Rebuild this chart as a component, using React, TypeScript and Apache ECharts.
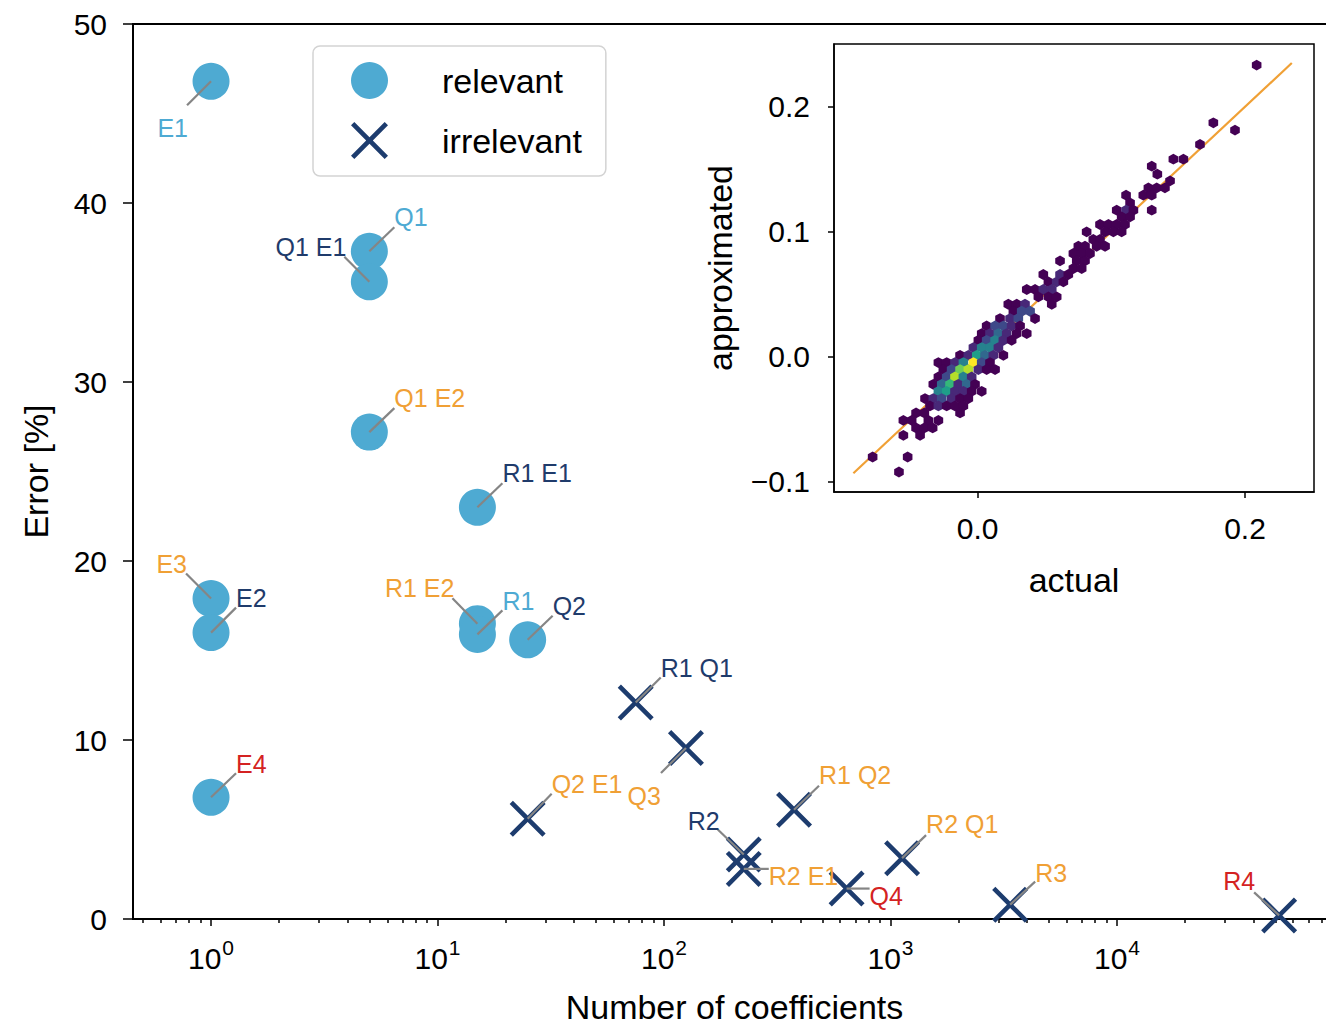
import React, { useEffect, useRef } from "react";
import * as echarts from "echarts";

// ---------- main plot data ----------
const relevantNames = ["E1", "Q1", "Q1 E1", "Q1 E2", "R1 E1", "E3", "E2", "R1 E2", "R1", "Q2", "E4"];
const relevantCoefs = [1, 5, 5, 5, 15, 1, 1, 15, 15, 25, 1];
const relevantErrors = [46.8, 37.3, 35.6, 27.2, 23.0, 17.9, 16.0, 16.5, 15.9, 15.6, 6.8];
const relevantLabelKind = ["blue", "blue", "navy", "orange", "navy", "orange", "navy", "orange", "blue", "navy", "red"];

const irrelevantNames = ["R1 Q1", "Q3", "Q2 E1", "R1 Q2", "R2", "R2 E1", "Q4", "R2 Q1", "R3", "R4"];
const irrelevantCoefs = [75, 125, 25, 375, 225, 225, 640, 1125, 3375, 52000];
const irrelevantErrors = [12.1, 9.55, 5.6, 6.1, 3.6, 2.8, 1.7, 3.4, 0.8, 0.2];
const irrelevantLabelKind = ["navy", "orange", "orange", "orange", "navy", "orange", "red", "orange", "orange", "red"];

const majorTicks = [1, 10, 100, 1000, 10000];
const minorTicks = [
  0.5, 0.6, 0.7, 0.8, 0.9,
  2, 3, 4, 5, 6, 7, 8, 9,
  20, 30, 40, 50, 60, 70, 80, 90,
  200, 300, 400, 500, 600, 700, 800, 900,
  2000, 3000, 4000, 5000, 6000, 7000, 8000, 9000,
  20000, 30000, 40000, 50000, 60000, 70000, 80000, 90000,
];

// ---------- inset data ----------
const insetXTicks = [0, 0.2];
const insetYTicks = [-0.1, 0, 0.1, 0.2];
const diagLine = [[-0.093, -0.093], [0.235, 0.235]];
// hexbin cells: [actual, approximated, count]
const hexCells = [
  [0.2087, 0.2333, 1],
  [0.1763, 0.1872, 1],
  [0.1925, 0.1813, 1],
  [0.1663, 0.1699, 1],
  [0.1464, 0.1581, 1], [0.1539, 0.1581, 1],
  [0.1302, 0.1525, 1],
  [0.1344, 0.1461, 1],
  [0.1439, 0.1408, 1],
  [0.1277, 0.1352, 1], [0.1339, 0.1352, 1], [0.1401, 0.1352, 1],
  [0.111, 0.1293, 1], [0.1239, 0.1293, 1], [0.1302, 0.1293, 1],
  [0.114, 0.1232, 1],
  [0.104, 0.1173, 1], [0.111, 0.1173, 2], [0.1165, 0.1173, 1], [0.1302, 0.1173, 1],
  [0.1077, 0.112, 1], [0.114, 0.112, 1],
  [0.0915, 0.1059, 1], [0.0978, 0.1059, 1], [0.104, 0.1059, 1], [0.1102, 0.1059, 1],
  [0.0815, 0.1, 1], [0.0953, 0.1, 1], [0.1015, 0.1, 1], [0.1077, 0.1, 1],
  [0.0865, 0.0939, 1], [0.0915, 0.0939, 1],
  [0.0753, 0.0885, 1], [0.0803, 0.0885, 1], [0.089, 0.0885, 1], [0.0953, 0.0885, 1],
  [0.0716, 0.0827, 1], [0.0778, 0.0827, 1], [0.084, 0.0827, 1],
  [0.0616, 0.0768, 1], [0.0741, 0.0768, 1], [0.0803, 0.0768, 1],
  [0.0716, 0.0707, 1], [0.0778, 0.0707, 1],
  [0.0491, 0.0659, 1], [0.0616, 0.0659, 2], [0.0678, 0.0659, 1],
  [0.0529, 0.06, 1], [0.0591, 0.06, 2], [0.0641, 0.06, 1],
  [0.0367, 0.0539, 1], [0.0429, 0.0539, 1], [0.0491, 0.0539, 2], [0.0554, 0.0539, 2],
  [0.0454, 0.048, 1], [0.0529, 0.048, 1], [0.0591, 0.048, 1],
  [0.0229, 0.0421, 1], [0.0292, 0.0421, 1], [0.0354, 0.0421, 2], [0.0554, 0.0421, 1],
  [0.0267, 0.0365, 1], [0.0329, 0.0365, 3], [0.0392, 0.0365, 3],
  [0.0167, 0.0307, 1], [0.0242, 0.0307, 2], [0.0304, 0.0307, 3], [0.0429, 0.0307, 1],
  [0.0067, 0.0248, 1], [0.013, 0.0248, 3], [0.0192, 0.0248, 3], [0.0254, 0.0248, 2], [0.0317, 0.0248, 1],
  [0.003, 0.0187, 1], [0.0092, 0.0187, 2], [0.0155, 0.0187, 4], [0.0217, 0.0187, 2], [0.0292, 0.0187, 1], [0.0367, 0.0187, 1],
  [0.0005, 0.0133, 1], [0.0067, 0.0133, 3], [0.013, 0.0133, 5], [0.0192, 0.0133, 2], [0.0254, 0.0133, 1],
  [-0.0032, 0.0075, 2], [0.003, 0.0075, 5], [0.0092, 0.0075, 5], [0.0155, 0.0075, 2],
  [-0.0132, 0.0013, 1], [-0.007, 0.0013, 2], [-0.0007, 0.0013, 6], [0.0055, 0.0013, 4], [0.0117, 0.0013, 2], [0.0192, 0.0013, 1],
  [-0.0294, -0.0045, 1], [-0.0232, -0.0045, 1], [-0.017, -0.0045, 2], [-0.0107, -0.0045, 5], [-0.0032, -0.0045, 10], [0.003, -0.0045, 3], [0.0092, -0.0045, 1],
  [-0.0257, -0.0101, 1], [-0.0195, -0.0101, 3], [-0.0132, -0.0101, 8], [-0.007, -0.0101, 9], [0.0005, -0.0101, 2], [0.0067, -0.0101, 1], [0.013, -0.0101, 1],
  [-0.0294, -0.016, 1], [-0.0232, -0.016, 3], [-0.017, -0.016, 9], [-0.0107, -0.016, 5], [-0.0045, -0.016, 2],
  [-0.0332, -0.0219, 1], [-0.0269, -0.0219, 4], [-0.0207, -0.0219, 7], [-0.0145, -0.0219, 2], [-0.0082, -0.0219, 4], [-0.002, -0.0219, 1],
  [-0.0294, -0.0275, 5], [-0.0232, -0.0275, 6], [-0.017, -0.0275, 2], [-0.0107, -0.0275, 2], [-0.0045, -0.0275, 1], [0.003, -0.0275, 1],
  [-0.0394, -0.0333, 1], [-0.0332, -0.0333, 2], [-0.0269, -0.0333, 3], [-0.0195, -0.0333, 2], [-0.0132, -0.0333, 1], [-0.007, -0.0333, 1],
  [-0.0357, -0.0392, 1], [-0.0294, -0.0392, 2], [-0.0232, -0.0392, 1], [-0.017, -0.0392, 1], [-0.0107, -0.0392, 1],
  [-0.0461, -0.0448, 1], [-0.0399, -0.0448, 1], [-0.0132, -0.0448, 1],
  [-0.0556, -0.0507, 1], [-0.0494, -0.0507, 1], [-0.0369, -0.0507, 1], [-0.0294, -0.0507, 1],
  [-0.0461, -0.0568, 1], [-0.0399, -0.0568, 1], [-0.0337, -0.0568, 1],
  [-0.0556, -0.0627, 1], [-0.0431, -0.0627, 1],
  [-0.0786, -0.08, 1], [-0.0524, -0.08, 1],
  [-0.0589, -0.092, 1],
];

// ---------- styles / layout (not data) ----------
const FONT = "'Liberation Sans', Arial, Helvetica, sans-serif";
const LABEL_COLORS: Record<string, string> = {
  blue: "#4eaad3",
  navy: "#1f3b6b",
  orange: "#f0a035",
  red: "#d42222",
};
// per label: [lineDx, lineDy, textDx, textDy, align] in pixels relative to the marker
const relevantLabelLayout: any[] = [
  [-24, 24, -23, 47, "right"],
  [25, -24, 25, -34, "left"],
  [-25, -25, -23, -34.5, "right"],
  [25, -24, 25, -34.5, "left"],
  [25, -24, 25, -34.5, "left"],
  [-25, -25, -24, -34.5, "right"],
  [25, -25, 25, -34.5, "left"],
  [-25, -25.5, -23, -35.5, "right"],
  [25, -24, 25, -33, "left"],
  [25, -24, 25, -34, "left"],
  [25, -24, 25, -33.5, "left"],
];
const irrelevantLabelLayout: any[] = [
  [25, -25, 25, -34.5, "left"],
  [-25, 25, -25, 48, "right"],
  [24, -25, 24, -35, "left"],
  [25, -24, 25, -34.5, "left"],
  [-26, -25, -24, -33.5, "right"],
  [25, 0, 25, 7, "left"],
  [23, 0, 23, 7, "left"],
  [24, -23, 24, -34, "left"],
  [25, -23, 25, -32, "left"],
  [-25, -23, -24, -34, "right"],
];

const X_SYMBOL = "path://M9,0 L50,41 L91,0 L100,9 L59,50 L100,91 L91,100 L50,59 L9,100 L0,91 L41,50 L0,9 Z";
const HEX_SYMBOL = "path://M50,0 L93.3,25 L93.3,75 L50,100 L6.7,75 L6.7,25 Z";
const VIRIDIS = ["#440154", "#482878", "#3e4989", "#31688e", "#26828e", "#1f9e89", "#35b779", "#6ece58", "#b5de2b", "#fde725"];

const X_MIN = 0.4523;
const X_MAX = 92700;

function buildOption() {
  const labelNames = [...relevantNames, ...irrelevantNames];
  const labelKinds = [...relevantLabelKind, ...irrelevantLabelKind];
  const labelLayouts = [...relevantLabelLayout, ...irrelevantLabelLayout];
  const labelData = [
    ...relevantCoefs.map((c, i) => [c, relevantErrors[i], i]),
    ...irrelevantCoefs.map((c, i) => [c, irrelevantErrors[i], relevantNames.length + i]),
  ];

  const axisLineStyle = { color: "#000", width: 2 };
  const tickStyle = { color: "#000", width: 1.5 };

  return {
    animation: false,
    textStyle: { fontFamily: FONT },
    legend: {
      left: 313,
      top: 46,
      orient: "vertical",
      padding: [16, 24, 17, 38],
      itemWidth: 37,
      itemHeight: 37,
      itemGap: 23,
      borderColor: "#d3d3d3",
      borderWidth: 1.5,
      borderRadius: 7,
      backgroundColor: "#fff",
      textStyle: { fontSize: 34, fontFamily: FONT, color: "#000", padding: [0, 0, 0, 49] },
      data: ["relevant", "irrelevant"],
      selectedMode: false,
    },
    visualMap: {
      type: "continuous",
      show: false,
      min: 1,
      max: 10,
      dimension: 2,
      seriesIndex: 4,
      inRange: { color: VIRIDIS },
    },
    grid: [
      {
        left: 133, top: 24, width: 1203, height: 895,
        containLabel: false, outerBoundsMode: "none",
        show: true, borderColor: "#000", borderWidth: 2,
      },
      {
        left: 834, top: 44, width: 480, height: 448,
        containLabel: false, outerBoundsMode: "none",
        show: true, borderColor: "#000", borderWidth: 1.5, backgroundColor: "#fff",
      },
    ],
    xAxis: [
      {
        gridIndex: 0,
        type: "log",
        logBase: 10,
        min: X_MIN,
        max: X_MAX,
        position: "bottom",
        axisLine: { show: true, onZero: false, lineStyle: axisLineStyle },
        axisTick: { show: true, length: 7, lineStyle: tickStyle, customValues: majorTicks },
        axisLabel: {
          customValues: majorTicks,
          margin: 18,
          formatter: (v: number) => "{b|10}{s|" + Math.round(Math.log10(v)) + "}",
          rich: {
            b: { fontSize: 30, fontFamily: FONT, color: "#000", verticalAlign: "bottom" },
            s: { fontSize: 21, fontFamily: FONT, color: "#000", verticalAlign: "bottom", padding: [0, 0, 15, 1] },
          },
        },
        splitLine: { show: false },
        name: "Number of coefficients",
        nameLocation: "middle",
        nameGap: 71,
        nameTextStyle: { fontSize: 34, fontFamily: FONT, color: "#000" },
      },
      {
        gridIndex: 0,
        type: "log",
        logBase: 10,
        min: X_MIN,
        max: X_MAX,
        position: "bottom",
        axisLine: { show: false, onZero: false },
        axisTick: { show: true, length: 4, lineStyle: tickStyle, customValues: minorTicks },
        axisLabel: { show: false },
        splitLine: { show: false },
      },
      {
        gridIndex: 1,
        type: "value",
        min: -0.1075,
        max: 0.2516,
        position: "bottom",
        axisLine: { show: true, onZero: false, lineStyle: { color: "#000", width: 1.5 } },
        axisTick: { show: true, length: 6, lineStyle: tickStyle, customValues: insetXTicks },
        axisLabel: {
          customValues: insetXTicks,
          margin: 21,
          fontSize: 30,
          fontFamily: FONT,
          color: "#000",
          formatter: (v: number) => v.toFixed(1).replace("-", "\u2212"),
        },
        splitLine: { show: false },
        name: "actual",
        nameLocation: "middle",
        nameGap: 71,
        nameTextStyle: { fontSize: 34, fontFamily: FONT, color: "#000" },
      },
    ],
    yAxis: [
      {
        gridIndex: 0,
        type: "value",
        min: 0,
        max: 50,
        interval: 10,
        position: "left",
        axisLine: { show: true, onZero: false, lineStyle: axisLineStyle },
        axisTick: { show: true, length: 10, lineStyle: tickStyle },
        axisLabel: { fontSize: 30, fontFamily: FONT, color: "#000", margin: 26 },
        splitLine: { show: false },
        name: "Error [%]",
        nameLocation: "middle",
        nameGap: 80,
        nameTextStyle: { fontSize: 34, fontFamily: FONT, color: "#000" },
      },
      {
        gridIndex: 1,
        type: "value",
        min: -0.108,
        max: 0.2502,
        position: "left",
        axisLine: { show: true, onZero: false, lineStyle: { color: "#000", width: 1.5 } },
        axisTick: { show: true, length: 6, lineStyle: tickStyle, customValues: insetYTicks },
        axisLabel: {
          customValues: insetYTicks,
          margin: 24,
          fontSize: 30,
          fontFamily: FONT,
          color: "#000",
          formatter: (v: number) => v.toFixed(1).replace("-", "\u2212"),
        },
        splitLine: { show: false },
        name: "approximated",
        nameLocation: "middle",
        nameGap: 97,
        nameTextStyle: { fontSize: 34, fontFamily: FONT, color: "#000" },
      },
    ],
    series: [
      {
        name: "relevant",
        type: "scatter",
        xAxisIndex: 0,
        yAxisIndex: 0,
        symbol: "circle",
        symbolSize: 37,
        itemStyle: { color: "#4eaad2", opacity: 1 },
        data: relevantCoefs.map((c, i) => [c, relevantErrors[i]]),
        z: 3,
        silent: true,
      },
      {
        name: "irrelevant",
        type: "scatter",
        xAxisIndex: 0,
        yAxisIndex: 0,
        symbol: X_SYMBOL,
        symbolSize: 36,
        itemStyle: { color: "#1d3c6e", opacity: 1 },
        data: irrelevantCoefs.map((c, i) => [c, irrelevantErrors[i]]),
        z: 3,
        silent: true,
      },
      {
        name: "labels",
        type: "custom",
        xAxisIndex: 0,
        yAxisIndex: 0,
        clip: false,
        silent: true,
        z: 5,
        encode: { x: 0, y: 1 },
        data: labelData,
        renderItem: (params: any, api: any) => {
          const p = api.coord([api.value(0), api.value(1)]);
          const idx = api.value(2);
          const [lx, ly, tx, ty, align] = labelLayouts[idx];
          return {
            type: "group",
            children: [
              {
                type: "line",
                shape: { x1: p[0], y1: p[1], x2: p[0] + lx, y2: p[1] + ly },
                style: { stroke: "#858585", lineWidth: 2.2 },
              },
              {
                type: "text",
                x: p[0] + tx,
                y: p[1] + ty,
                style: {
                  text: labelNames[idx],
                  fill: LABEL_COLORS[labelKinds[idx]],
                  fontSize: 25,
                  fontFamily: FONT,
                  align,
                  verticalAlign: "middle",
                },
              },
            ],
          };
        },
      },
      {
        name: "y = x",
        type: "line",
        xAxisIndex: 2,
        yAxisIndex: 1,
        data: diagLine,
        symbol: "none",
        lineStyle: { color: "#f0a035", width: 2.2 },
        z: 2,
        silent: true,
      },
      {
        name: "hexbin",
        type: "scatter",
        xAxisIndex: 2,
        yAxisIndex: 1,
        symbol: HEX_SYMBOL,
        symbolSize: [9.6, 10.8],
        itemStyle: { opacity: 1 },
        data: hexCells,
        z: 3,
        silent: true,
      },
    ],
  };
}

export default function App() {
  const ref = useRef<HTMLDivElement>(null);
  useEffect(() => {
    if (!ref.current) return;
    const chart = echarts.init(ref.current, null, { renderer: "svg" });
    chart.setOption(buildOption() as any);
    return () => chart.dispose();
  }, []);
  return (
    <div
      ref={ref}
      style={{ position: "absolute", left: 0, top: 0, width: 1326, height: 1027, background: "#fff" }}
    />
  );
}
